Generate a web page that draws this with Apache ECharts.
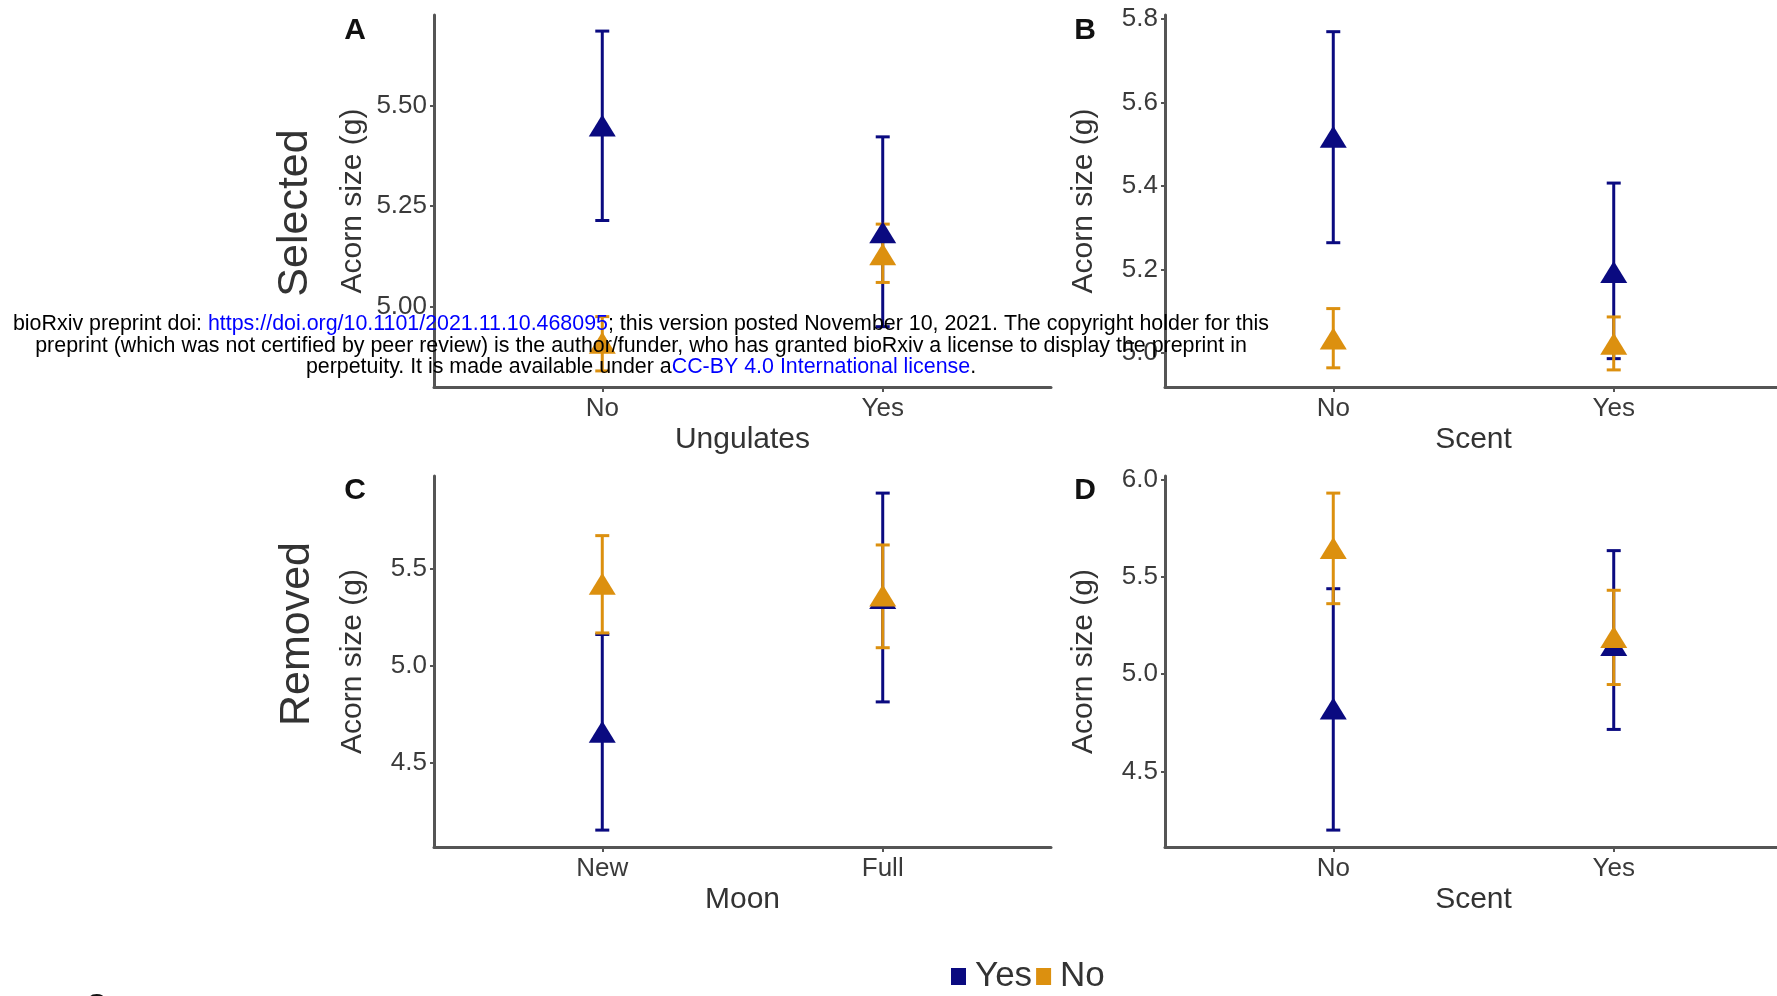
<!DOCTYPE html>
<html>
<head>
<meta charset="utf-8">
<script src="https://cdn.jsdelivr.net/npm/echarts@6/dist/echarts.min.js"></script>
<style>
  html, body { margin: 0; padding: 0; background: #fff; }
  #chart { width: 1777px; height: 996px; }
</style>
</head>
<body>
<div id="chart"></div>
<script>
// categories and axis names for the four panels
const catsA = ['No', 'Yes']
const catsB = ['No', 'Yes']
const catsC = ['New', 'Full']
const catsD = ['No', 'Yes']
const xNames = ['Ungulates', 'Scent', 'Moon', 'Scent']

// y ticks per panel
const yTicksA = [5.00, 5.25, 5.50]
const yTicksB = [5.0, 5.2, 5.4, 5.6, 5.8]
const yTicksC = [4.5, 5.0, 5.5]
const yTicksD = [4.5, 5.0, 5.5, 6.0]

// means and intervals, group "Yes"
const meanYesA = [5.45, 5.185]
const lowYesA = [5.214, 4.95]
const highYesA = [5.685, 5.422]
const meanYesB = [5.518, 5.194]
const lowYesB = [5.264, 4.986]
const highYesB = [5.77, 5.407]
const meanYesC = [4.661, 5.35]
const lowYesC = [4.155, 4.815]
const highYesC = [5.162, 5.89]
const meanYesD = [4.824, 5.15]
const lowYesD = [4.198, 4.716]
const highYesD = [5.44, 5.636]

// means and intervals, group "No"
const meanNoA = [4.91, 5.13]
const lowNoA = [4.84, 5.06]
const highNoA = [4.975, 5.205]
const meanNoB = [5.034, 5.022]
const lowNoB = [4.964, 4.959]
const highNoB = [5.106, 5.086]
const meanNoC = [5.423, 5.363]
const lowNoC = [5.17, 5.094]
const highNoC = [5.671, 5.623]
const meanNoD = [5.65, 5.191]
const lowNoD = [5.363, 4.947]
const highNoD = [5.932, 5.432]

const BLUE = '#0a0a80'
const ORANGE = '#dc900f'
const AXIS = '#555'
const FONT = '"Liberation Sans", Arial, sans-serif'

const panels = [
    { cats: catsA, ticks: yTicksA, dec: 2, min: 4.80, max: 5.725, letter: 'A',
      yes: [meanYesA, lowYesA, highYesA], no: [meanNoA, lowNoA, highNoA] },
    { cats: catsB, ticks: yTicksB, dec: 1, min: 4.918, max: 5.81, letter: 'B',
      yes: [meanYesB, lowYesB, highYesB], no: [meanNoB, lowNoB, highNoB] },
    { cats: catsC, ticks: yTicksC, dec: 1, min: 4.068, max: 5.978, letter: 'C',
      yes: [meanYesC, lowYesC, highYesC], no: [meanNoC, lowNoC, highNoC] },
    { cats: catsD, ticks: yTicksD, dec: 1, min: 4.111, max: 6.02, letter: 'D',
      yes: [meanYesD, lowYesD, highYesD], no: [meanNoD, lowNoD, highNoD] }
]

const gridPos = [
    { left: 434, top: 15, width: 617, height: 372 },
    { left: 1165, top: 15, width: 617, height: 372 },
    { left: 434, top: 476, width: 617, height: 371 },
    { left: 1165, top: 476, width: 617, height: 371 }
]

const errorBar = (params, api) => {
    const x = api.value(0)
    const lo = api.coord([x, api.value(1)])
    const hi = api.coord([x, api.value(2)])
    const color = api.visual('color')
    const cap = 7
    const st = { stroke: color, lineWidth: 3 }
    return {
        type: 'group',
        children: [
            { type: 'line', shape: { x1: lo[0], y1: lo[1], x2: hi[0], y2: hi[1] }, style: st },
            { type: 'line', shape: { x1: lo[0] - cap, y1: lo[1], x2: lo[0] + cap, y2: lo[1] }, style: st },
            { type: 'line', shape: { x1: hi[0] - cap, y1: hi[1], x2: hi[0] + cap, y2: hi[1] }, style: st }
        ]
    }
}

const grids = []
const xAxes = []
const yAxes = []
const series = []

panels.forEach((p, i) => {
    grids.push(Object.assign({ outerBoundsMode: 'none', containLabel: false }, gridPos[i]))
    xAxes.push({
        gridIndex: i,
        type: 'value',
        min: 0.4,
        max: 2.6,
        name: xNames[i],
        nameLocation: 'middle',
        nameGap: 38,
        nameTextStyle: { fontSize: 30, color: '#333', fontFamily: FONT },
        splitLine: { show: false },
        axisLine: { lineStyle: { color: AXIS, width: 3 } },
        axisTick: { customValues: [1, 2], length: 5, lineStyle: { color: AXIS, width: 2 } },
        axisLabel: {
            customValues: [1, 2],
            formatter: v => p.cats[Math.round(v) - 1],
            fontSize: 26, color: '#3a3a3a', fontFamily: FONT, margin: 9
        }
    })
    yAxes.push({
        gridIndex: i,
        type: 'value',
        min: p.min,
        max: p.max,
        name: 'Acorn size (g)',
        nameLocation: 'middle',
        nameRotate: 90,
        nameGap: 66,
        nameTextStyle: { fontSize: 30, color: '#333', fontFamily: FONT },
        splitLine: { show: false },
        axisLine: { show: true, lineStyle: { color: AXIS, width: 3 } },
        axisTick: { show: true, customValues: p.ticks, length: 4, lineStyle: { color: AXIS, width: 2 } },
        axisLabel: {
            customValues: p.ticks,
            formatter: v => v.toFixed(p.dec),
            fontSize: 26, color: '#3a3a3a', fontFamily: FONT, margin: 7
        }
    })
    const groups = [['Yes', BLUE, p.yes], ['No', ORANGE, p.no]]
    groups.forEach(([name, color, d]) => {
        series.push({
            type: 'custom',
            name: name,
            xAxisIndex: i,
            yAxisIndex: i,
            renderItem: errorBar,
            itemStyle: { color: color },
            data: p.cats.map((c, k) => [k + 1, d[1][k], d[2][k]]),
            silent: true
        })
        series.push({
            type: 'scatter',
            name: name,
            xAxisIndex: i,
            yAxisIndex: i,
            symbol: 'triangle',
            symbolSize: [27, 22],
            itemStyle: { color: color, opacity: 1 },
            data: p.cats.map((c, k) => [k + 1, d[0][k]]),
            silent: true
        })
    })
})

const letterPos = [[355, 31], [1085, 31], [355, 491], [1085, 491]]
const graphics = panels.map((p, i) => ({
    type: 'text',
    x: letterPos[i][0],
    y: letterPos[i][1],
    style: {
        text: p.letter, fill: '#111', font: 'bold 30px ' + FONT,
        align: 'center', verticalAlign: 'middle'
    }
}))

const rowLabels = [['Selected', 295, 213], ['Removed', 297, 634]]
rowLabels.forEach(([t, x, y]) => {
    graphics.push({
        type: 'text', x: x, y: y, rotation: Math.PI / 2,
        style: { text: t, fill: '#333', font: '43px ' + FONT, align: 'center', verticalAlign: 'middle' }
    })
})

// preprint notice drawn across the figure
const notice = [
    'bioRxiv preprint doi: {l|https://doi.org/10.1101/2021.11.10.468095}; this version posted November 10, 2021. The copyright holder for this',
    'preprint (which was not certified by peer review) is the author/funder, who has granted bioRxiv a license to display the preprint in',
    'perpetuity. It is made available under a{l|CC-BY 4.0 International license}.'
]
const noticeY = [324, 346, 367]
notice.forEach((t, k) => {
    graphics.push({
        type: 'text', x: 641, y: noticeY[k], z: 100,
        style: {
            text: t, fill: '#000', font: '21.4px ' + FONT,
            align: 'center', verticalAlign: 'middle',
            rich: { l: { fill: '#0000ff', font: '21.4px ' + FONT } }
        }
    })
})

// cut-off label at the bottom edge
graphics.push({
    type: 'text', x: 96, y: 991,
    style: { text: 'C', fill: '#111', font: 'bold 28px ' + FONT, align: 'center', verticalAlign: 'top' }
})

const chart = echarts.init(document.getElementById('chart'))
chart.setOption({
    animation: false,
    backgroundColor: '#fff',
    grid: grids,
    xAxis: xAxes,
    yAxis: yAxes,
    legend: {
        data: ['Yes', 'No'],
        left: 946,
        top: 954,
        icon: 'rect',
        itemWidth: 15,
        itemHeight: 17,
        itemGap: 4,
        textStyle: { fontSize: 35, color: '#333', fontFamily: FONT, padding: [0, 0, 0, 4] }
    },
    series: series,
    graphic: graphics
})
</script>
</body>
</html>
